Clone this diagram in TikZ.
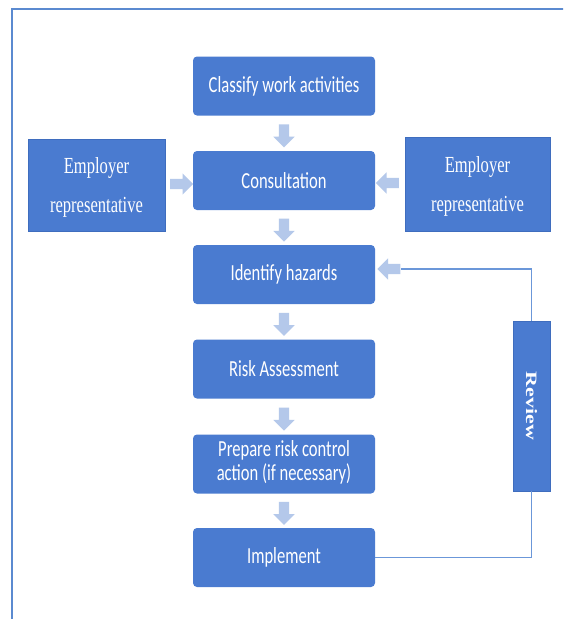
\documentclass[tikz,border=0pt]{standalone}
\usepackage{fontspec}
\setmainfont{Liberation Serif}
\newfontfamily\calfont{Carlito}
\usetikzlibrary{shapes.arrows,calc}
\definecolor{boxblue}{HTML}{4A7BD0}
\definecolor{arrowblue}{HTML}{B4C8EA}
\definecolor{frameblue}{HTML}{5B8AD0}
\definecolor{lineblue}{HTML}{6B97D9}
\definecolor{borderblue}{HTML}{3F6DBE}
\newcommand{\sq}[1]{\scalebox{0.72}[1]{#1}}
\tikzset{
  mainbox/.style={fill=boxblue, draw=none, rounded corners=4pt, minimum width=182pt, minimum height=59pt,
    inner sep=0pt, text=white, font=\calfont\fontsize{23}{24}\selectfont, align=center},
  sidebox/.style={fill=boxblue, draw=borderblue, line width=0.8pt, inner sep=0pt, text=white,
    font=\fontsize{23}{39}\selectfont},
  blockarrow/.style={single arrow, fill=arrowblue, draw=none, minimum height=23pt, minimum width=21pt,
    inner sep=5pt, single arrow head extend=5.5pt, anchor=center},
  revline/.style={draw=lineblue, line width=1.5pt},
}
\begin{document}
\begin{tikzpicture}[x=1pt,y=-1pt]
\useasboundingbox (0,0) rectangle (563,619);
\clip (0,0) rectangle (563,619);
\fill[white] (0,0) rectangle (563,619);
% frame
\draw[frameblue, line width=2.5pt] (12,625) -- (12,9) -- (570,9);
% main boxes
\node[mainbox] (classify) at (284,86) {\sq{Classify work activities}};
\node[mainbox] (consult) at (284,180.5) {\sq{Consultation}};
\node[mainbox] (identify) at (284,274.5) {\sq{Identify hazards}};
\node[mainbox] (risk) at (284,369) {\sq{Risk Assessment}};
\node[mainbox] (prepare) at (284,464) {\sq{\begin{tabular}{@{}c@{}}Prepare risk control\\action (if necessary)\end{tabular}}};
\node[mainbox] (implement) at (284,557.5) {\sq{Implement}};
% side boxes
\node[sidebox, minimum width=137pt, minimum height=92pt] (empL) at (96.5,185)
  {\sq{\begin{tabular}{@{}c@{}}Employer\\representative\end{tabular}}};
\node[sidebox, minimum width=145pt, minimum height=94pt] (empR) at (477.5,184)
  {\sq{\begin{tabular}{@{}c@{}}Employer\\representative\end{tabular}}};
\node[sidebox, minimum width=37pt, minimum height=170pt] (review) at (531.5,406) {};
\node[text=white, rotate=-90, font=\fontsize{22}{24}\selectfont\bfseries] (reviewtxt) at (review.center)
  {\scalebox{1}[0.72]{Review}};
% block arrows
\node[blockarrow, rotate=-90] (a1) at ($(classify.south)!0.5!(consult.north)$) {};
\node[blockarrow, rotate=-90] (a2) at ($(consult.south)!0.5!(identify.north)$) {};
\node[blockarrow, rotate=-90] (a3) at ($(identify.south)!0.5!(risk.north)$) {};
\node[blockarrow, rotate=-90] (a4) at ($(risk.south)!0.5!(prepare.north)$) {};
\node[blockarrow, rotate=-90] (a5) at ($(prepare.south)!0.5!(implement.north)$) {};
\node[blockarrow] (aL) at ($(empL.east |- 0,184)!0.5!(consult.west |- 0,184)$) {};
\node[blockarrow, rotate=180] (aR) at ($(consult.east |- 0,183)!0.5!(empR.west |- 0,183)$) {};
\node[blockarrow, rotate=180] (aRev) at (391.5,269) {};
% review loop
\draw[revline] (review.north) |- (aRev.tail);
\draw[revline] (implement.east) -| (review.south);
\end{tikzpicture}
\end{document}
